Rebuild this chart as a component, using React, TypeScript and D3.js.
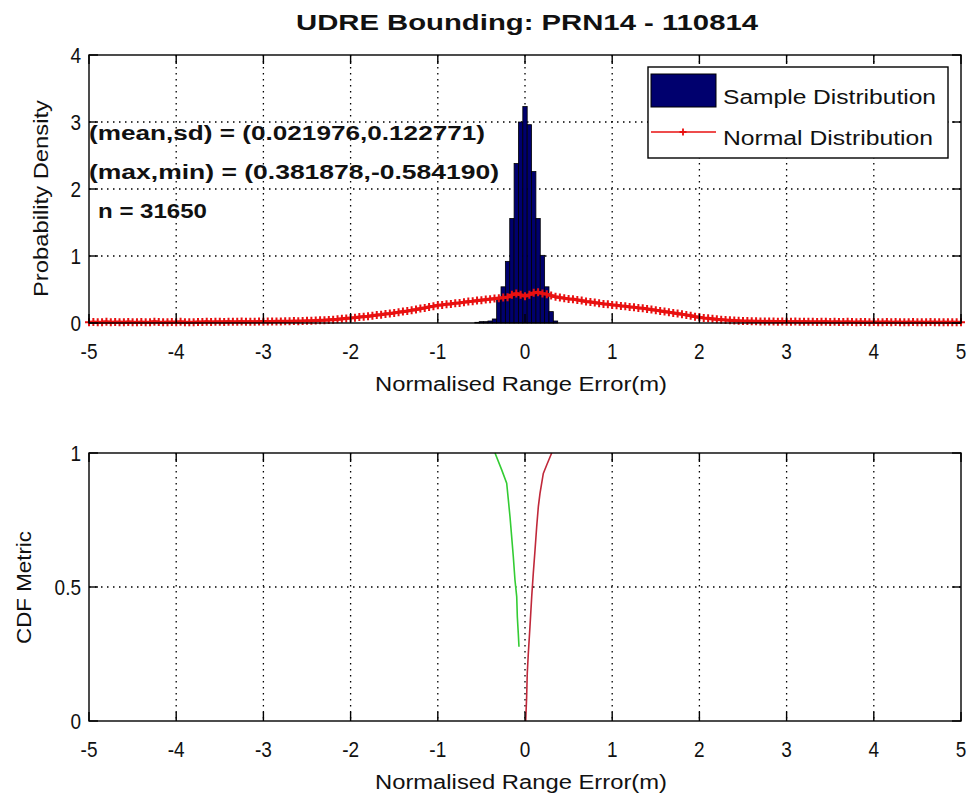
import React from 'react';
import * as d3 from 'd3';

const titleText = 'UDRE Bounding: PRN14 - 110814';
const xLabelText = 'Normalised Range Error(m)';
const xTicks = [-5, -4, -3, -2, -1, 0, 1, 2, 3, 4, 5];
const topYTicks = [0, 1, 2, 3, 4];
const bottomYTicks = [0, 0.5, 1];
const annotations = ['(mean,sd) = (0.021976,0.122771)', '(max,min) = (0.381878,-0.584190)', 'n = 31650'];
const legendLabels = ['Sample Distribution', 'Normal Distribution'];

// histogram (bin centers, density), bin width 0.05
const histCenters = [-0.55, -0.5, -0.45, -0.4, -0.35, -0.3, -0.25, -0.2, -0.15, -0.1, -0.05, 0, 0.05, 0.1, 0.15, 0.2, 0.25, 0.3, 0.35];
const histDensity = [0.01, 0.02, 0.02, 0.03, 0.06, 0.35, 0.54, 0.92, 1.56, 2.38, 3.0, 3.23, 2.96, 2.26, 1.56, 1.01, 0.54, 0.17, 0.03];
const histBinWidth = 0.05;

// normal distribution curve, sampled from -5 to 5 every 0.05
const normalStart = -5;
const normalStep = 0.05;
const normalDensity = [
  0.01, 0.015, 0.01, 0.012, 0.018, 0.01, 0.014, 0.012, 0.01, 0.016, 0.012, 0.01, 0.015, 0.011, 0.013, 0.02, 0.014, 0.01, 0.012, 0.015,
  0.013, 0.018, 0.012, 0.01, 0.011, 0.016, 0.014, 0.02, 0.015, 0.017, 0.019, 0.016, 0.02, 0.018, 0.017, 0.021, 0.018, 0.02, 0.019, 0.022,
  0.02, 0.022, 0.021, 0.024, 0.023, 0.026, 0.025, 0.028, 0.027, 0.03, 0.033, 0.032, 0.036, 0.04, 0.042, 0.046, 0.05, 0.055, 0.062, 0.068,
  0.075, 0.08, 0.088, 0.095, 0.1, 0.11, 0.118, 0.125, 0.135, 0.14, 0.15, 0.16, 0.17, 0.178, 0.19, 0.2, 0.215, 0.225, 0.24, 0.25,
  0.265, 0.27, 0.28, 0.285, 0.295, 0.3, 0.31, 0.32, 0.325, 0.335, 0.34, 0.35, 0.355, 0.365, 0.37, 0.38, 0.385, 0.42, 0.44, 0.42,
  0.4, 0.42, 0.45, 0.46, 0.44, 0.43, 0.41, 0.39, 0.38, 0.37, 0.36, 0.355, 0.345, 0.335, 0.32, 0.315, 0.305, 0.295, 0.285, 0.28,
  0.27, 0.265, 0.255, 0.25, 0.24, 0.235, 0.225, 0.22, 0.21, 0.2, 0.19, 0.18, 0.17, 0.16, 0.15, 0.14, 0.13, 0.12, 0.11, 0.095,
  0.085, 0.075, 0.07, 0.062, 0.055, 0.05, 0.045, 0.04, 0.036, 0.033, 0.03, 0.028, 0.027, 0.025, 0.024, 0.022, 0.023, 0.021, 0.02, 0.022,
  0.02, 0.019, 0.021, 0.018, 0.02, 0.017, 0.019, 0.016, 0.018, 0.02, 0.015, 0.017, 0.016, 0.014, 0.018, 0.015, 0.013, 0.016, 0.014, 0.012,
  0.015, 0.013, 0.012, 0.016, 0.011, 0.014, 0.012, 0.01, 0.013, 0.015, 0.011, 0.012, 0.01, 0.014, 0.012, 0.011, 0.013, 0.01, 0.012, 0.011, 0.01,
];

// CDF metric curves
const cdfGreenX = [-0.344, -0.267, -0.21, -0.191, -0.172, -0.153, -0.134, -0.115, -0.095, -0.088, -0.077, -0.069];
const cdfGreenY = [1.0, 0.937, 0.887, 0.825, 0.762, 0.688, 0.613, 0.526, 0.464, 0.389, 0.327, 0.277];
const cdfRedX = [0.306, 0.249, 0.21, 0.191, 0.172, 0.153, 0.134, 0.115, 0.095, 0.077, 0.057, 0.038, 0.026, 0.019, 0.008];
const cdfRedY = [1.0, 0.955, 0.924, 0.887, 0.849, 0.8, 0.725, 0.638, 0.551, 0.464, 0.352, 0.252, 0.178, 0.091, 0.0];

const FONT = 'Liberation Sans, Arial, sans-serif';
const RED = '#e81010';

export default function App() {
  const x = d3.scaleLinear().domain([-5, 5]).range([89, 961]);
  const yTop = d3.scaleLinear().domain([0, 4]).range([323, 55]);
  const yBot = d3.scaleLinear().domain([0, 1]).range([721, 453]);

  const normalPts: [number, number][] = normalDensity.map((d, i) => [normalStart + i * normalStep, d]);
  const normalLine = d3.line<[number, number]>().x(d => x(d[0])).y(d => yTop(d[1]))(normalPts) || '';
  const plusPath = normalPts
    .map(d => {
      const px = x(d[0]);
      const py = yTop(d[1]);
      const s = 4;
      return `M${px - s},${py}H${px + s}M${px},${py - s}V${py + s}`;
    })
    .join('');

  const lineB = d3.line<[number, number]>().x(d => x(d[0])).y(d => yBot(d[1]));
  const greenPath = lineB(cdfGreenX.map((v, i) => [v, cdfGreenY[i]])) || '';
  const redPath = lineB(cdfRedX.map((v, i) => [v, cdfRedY[i]])) || '';

  const tickLen = 9;
  const dash = '1.5,4.5';

  const renderGrid = (y: d3.ScaleLinear<number, number>, gridY: number[], top: number, bottom: number) => (
    <g>
      {xTicks.slice(1, -1).map(t => (
        <line key={'gx' + t} x1={x(t)} x2={x(t)} y1={top} y2={bottom} stroke="#000" strokeWidth={1.3} strokeDasharray={dash} />
      ))}
      {gridY.map(t => (
        <line key={'gy' + t} x1={89} x2={961} y1={y(t)} y2={y(t)} stroke="#000" strokeWidth={1.3} strokeDasharray={dash} />
      ))}
    </g>
  );

  const renderFrame = (
    y: d3.ScaleLinear<number, number>,
    yTicks: number[],
    top: number,
    bottom: number,
    tickLabelY: number
  ) => (
    <g>
      <rect x={89} y={top} width={872} height={bottom - top} fill="none" stroke="#000" strokeWidth={1.4} />
      {xTicks.map(t => (
        <g key={'xt' + t}>
          <line x1={x(t)} x2={x(t)} y1={bottom} y2={bottom - tickLen} stroke="#000" strokeWidth={1.4} />
          <line x1={x(t)} x2={x(t)} y1={top} y2={top + tickLen} stroke="#000" strokeWidth={1.4} />
          <text
            transform={`translate(${x(t)},${tickLabelY}) scale(1,1.2)`}
            textAnchor="middle"
            fontSize={19}
            fontFamily={FONT}
            fill="#111"
          >
            {t}
          </text>
        </g>
      ))}
      {yTicks.map(t => (
        <g key={'yt' + t}>
          <line x1={89} x2={89 + tickLen} y1={y(t)} y2={y(t)} stroke="#000" strokeWidth={1.4} />
          <line x1={961} x2={961 - tickLen} y1={y(t)} y2={y(t)} stroke="#000" strokeWidth={1.4} />
          <text
            transform={`translate(81,${y(t) + 8}) scale(1,1.2)`}
            textAnchor="end"
            fontSize={19}
            fontFamily={FONT}
            fill="#111"
          >
            {String(t)}
          </text>
        </g>
      ))}
    </g>
  );

  return (
    <svg width={969} height={802} style={{ position: 'absolute', left: 0, top: 0, background: '#fff' }}>
      <rect x={0} y={0} width={969} height={802} fill="#fff" />
      {/* Title */}
      <text x={296} y={30} fontSize={22} fontWeight="bold" fontFamily={FONT} fill="#111" textLength={462} lengthAdjust="spacingAndGlyphs">
        {titleText}
      </text>

      {/* Top plot */}
      {renderGrid(yTop, [1, 2, 3], 55, 323)}
      <g>
        {histCenters.map((c, i) => (
          <rect
            key={'h' + i}
            x={x(c - histBinWidth / 2)}
            y={yTop(histDensity[i])}
            width={x(c + histBinWidth / 2) - x(c - histBinWidth / 2)}
            height={yTop(0) - yTop(histDensity[i])}
            fill="#00006e"
            stroke="#000"
            strokeWidth={0.8}
          />
        ))}
      </g>
      <path d={normalLine} fill="none" stroke={RED} strokeWidth={3.2} />
      <path d={plusPath} fill="none" stroke={RED} strokeWidth={2} />
      {renderFrame(yTop, topYTicks, 55, 323, 359)}

      {annotations.map((a, i) => (
        <text
          key={'an' + i}
          x={i === 2 ? 98 : 89}
          y={140 + i * 39}
          fontSize={20}
          fontWeight="bold"
          fontFamily={FONT}
          fill="#111"
          textLength={i === 0 ? 396 : i === 1 ? 410 : 109}
          lengthAdjust="spacingAndGlyphs"
        >
          {a}
        </text>
      ))}

      {/* Legend */}
      <g>
        <rect x={648} y={67} width={300} height={91} fill="#fff" stroke="#000" strokeWidth={1.4} />
        <rect x={651} y={74} width={65} height={33} fill="#00006e" stroke="#000" strokeWidth={1} />
        <line x1={651} x2={716} y1={132} y2={132} stroke={RED} strokeWidth={1.5} />
        <path d="M679.5,132H686.5M683,128.5V135.5" stroke={RED} strokeWidth={1.8} />
        <text x={723} y={104} fontSize={20} fontFamily={FONT} fill="#111" textLength={213} lengthAdjust="spacingAndGlyphs">
          {legendLabels[0]}
        </text>
        <text x={723} y={145} fontSize={20} fontFamily={FONT} fill="#111" textLength={210} lengthAdjust="spacingAndGlyphs">
          {legendLabels[1]}
        </text>
      </g>

      <text x={375} y={391} fontSize={20} fontFamily={FONT} fill="#111" textLength={292} lengthAdjust="spacingAndGlyphs">
        {xLabelText}
      </text>
      <text
        transform="translate(48,297) rotate(-90)"
        fontSize={20}
        fontFamily={FONT}
        fill="#111"
        textLength={197}
        lengthAdjust="spacingAndGlyphs"
      >
        Probability Density
      </text>

      {/* Bottom plot */}
      {renderGrid(yBot, [0.5], 453, 721)}
      <path d={greenPath} fill="none" stroke="#33cc33" strokeWidth={1.6} />
      <path d={redPath} fill="none" stroke="#c0283a" strokeWidth={1.6} />
      {renderFrame(yBot, bottomYTicks, 453, 721, 757)}

      <text x={375} y={789} fontSize={20} fontFamily={FONT} fill="#111" textLength={292} lengthAdjust="spacingAndGlyphs">
        {xLabelText}
      </text>
      <text
        transform="translate(31,644) rotate(-90)"
        fontSize={20}
        fontFamily={FONT}
        fill="#111"
        textLength={113}
        lengthAdjust="spacingAndGlyphs"
      >
        CDF Metric
      </text>
    </svg>
  );
}
